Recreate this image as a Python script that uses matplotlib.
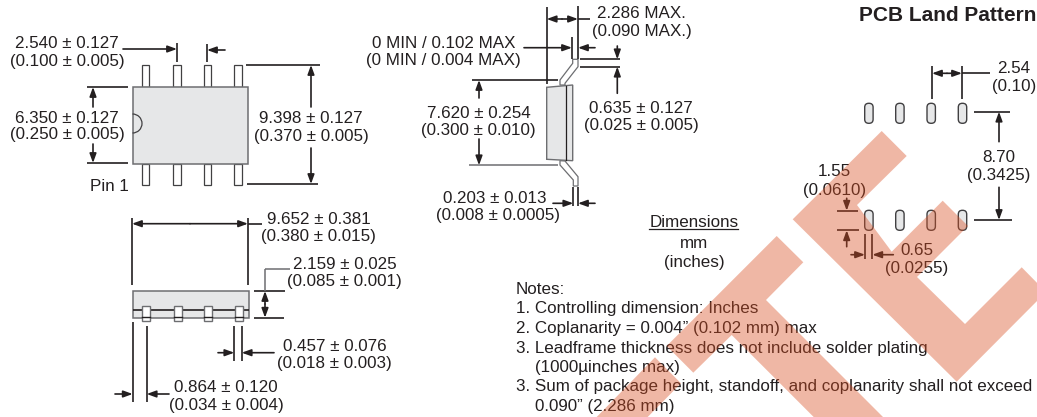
import matplotlib
matplotlib.use("Agg")
import matplotlib.pyplot as plt
from matplotlib.patches import Polygon, Rectangle, FancyBboxPatch, Arc

plt.rcParams['font.family'] = ['Liberation Sans', 'DejaVu Sans']

INK = '#231f20'
GRAY = '#6d6e71'
FILL = '#e6e7e8'

# dimension labels: text, center x, center y
labels = [
    ("2.540 ± 0.127", 67, 42), ("(0.100 ± 0.005)", 67, 59.5),
    ("6.350 ± 0.127", 67, 116.5), ("(0.250 ± 0.005)", 67, 133.5),
    ("9.398 ± 0.127", 311, 117), ("(0.370 ± 0.005)", 311, 134.5),
    ("Pin 1", 109.5, 185),
    ("9.652 ± 0.381", 319, 217.5), ("(0.380 ± 0.015)", 318.5, 235),
    ("2.159 ± 0.025", 345, 263), ("(0.085 ± 0.001)", 344.5, 280),
    ("0.457 ± 0.076", 335, 345), ("(0.018 ± 0.003)", 334, 362),
    ("0.864 ± 0.120", 226, 386.5), ("(0.034 ± 0.004)", 226, 404),
    ("2.286 MAX.", 641.5, 12), ("(0.090 MAX.)", 641.5, 30),
    ("0 MIN / 0.102 MAX", 443.5, 41.5), ("(0 MIN / 0.004 MAX)", 443.5, 58.5),
    ("0.635 ± 0.127", 641, 106.5), ("(0.025 ± 0.005)", 641, 124),
    ("7.620 ± 0.254", 478.5, 111.5), ("(0.300 ± 0.010)", 478.5, 129),
    ("0.203 ± 0.013", 495, 196.5), ("(0.008 ± 0.0005)", 498, 214),
    ("2.54", 1014, 66.5), ("(0.10)", 1014, 85),
    ("8.70", 999, 155.5), ("(0.3425)", 999, 174),
    ("1.55", 834.5, 169.5), ("(0.0610)", 834.5, 189),
    ("0.65", 917, 248.5), ("(0.0255)", 917, 267.5),
    ("Dimensions", 694, 221), ("mm", 694, 241.5), ("(inches)", 694, 260.5),
]

notes = [
    ("Notes:", 516, 288),
    ("1. Controlling dimension: Inches", 516, 307.5),
    ("2. Coplanarity = 0.004” (0.102 mm) max", 516, 327),
    ("3. Leadframe thickness does not include solder plating", 516, 346.5),
    ("(1000µinches max)", 535, 366),
    ("3. Sum of package height, standoff, and coplanarity shall not exceed", 516, 385.5),
    ("0.090” (2.286 mm)", 535, 404.5),
]

# package outlines
top_body = (132.5, 87, 115.5, 76.5)
lead_x = [141.5, 173, 203.5, 234]
top_lead_y = [(65, 22), (163.5, 21.5)]
front_body = (133, 291, 116, 26.5)
front_lead_x = [142.3, 173.7, 204, 234.7]
side_body = [(546.7, 87.3), (572.7, 85), (572.7, 160.7), (546.7, 159.3)]
side_lead_top = [(560, 85), (560, 80), (572.7, 63.3), (572.7, 59.3), (578, 59.3), (578, 66.7), (565, 83.3), (565, 85)]
side_lead_bot = [(560, 160.7), (560, 165), (573.3, 180), (573.3, 186), (578, 186), (578, 176.7), (565, 161)]
pad_x = [864.7, 895.7, 927, 958.3]
pad_y = [103.3, 210.3]

# extension and dimension lines: x0, y0, x1, y1
black_lines = [
    (177, 43, 177, 62), (207, 44, 207, 62),
    (87, 87, 128, 87), (87, 163, 128, 163),
    (246, 65, 320, 65), (247, 184, 318, 184),
    (132, 218, 132, 285), (248, 218, 248, 285), (248, 223.7, 262, 223.7),
    (254, 291, 285, 291), (254, 317.7, 284, 317.7),
    (234.3, 325.7, 234.3, 360.7), (241.7, 325.7, 241.7, 360.7),
    (132.7, 321.7, 132.7, 401.7), (146.7, 325.7, 146.7, 401.7),
    (546.7, 7.3, 546.7, 84), (578, 6, 578, 59), (578, 19, 590, 19),
    (572, 36.7, 572, 59),
    (580, 59.3, 620, 59.3), (580, 66.7, 620, 66.7),
    (472, 80, 558, 80),
    (573.3, 187.3, 573.3, 205.7), (578, 187.3, 578, 205.7),
    (932, 66, 932, 98.7), (962, 66, 962, 98.7), (962, 73.3, 990, 73.3),
    (974, 111.7, 1010, 111.7), (974, 220, 1011.7, 220),
    (837.3, 210.7, 857.7, 210.7), (837.3, 230.3, 859, 230.3),
    (865, 234, 865, 258.7), (872.3, 234, 872.3, 258.7),
]
gray_lines = [
    (265, 269, 290, 269), (265, 269, 265, 291),
    (469, 165.3, 558, 165.3),
]
# arrows run from tail to head: x0, y0, x1, y1
arrows = [
    (123, 49, 177, 49), (225, 50, 207, 50),
    (93, 107, 93, 87), (93, 144, 93, 163),
    (311, 107, 311, 65), (311, 148, 311, 184),
    (190, 223.7, 132, 223.7), (190, 223.7, 248, 223.7),
    (265, 304, 265, 291), (265, 304, 265, 317.7),
    (218, 352.7, 234.3, 352.7), (274, 352.7, 241.7, 352.7),
    (115, 394, 132.7, 394), (169, 394, 146.7, 394),
    (562, 19, 546.7, 19), (562, 19, 578, 19),
    (524, 47.7, 572, 47.7), (595, 47.7, 578, 47.7),
    (617.3, 46, 617.3, 59.3), (617.3, 93.3, 617.3, 66.7),
    (479, 98, 479, 80), (479, 139, 479, 165.3),
    (553, 203.3, 573.3, 203.3), (595, 203.3, 578, 203.3),
    (947, 73.3, 932, 73.3), (947, 73.3, 962, 73.3),
    (999, 141.7, 999, 111.7), (999, 187.3, 999, 220),
    (846.7, 198.3, 846.7, 210.7), (846.7, 246.7, 846.7, 230.3),
    (851, 254.7, 865, 254.7), (893.3, 254.7, 872.3, 254.7),
]

# logo stripes behind everything on the page
logo_right = [(881.7, 131), (906.7, 156), (857, 205), (891.7, 251.7), (942.7, 200.7), (968, 226), (917, 277),
              (965, 324), (1021.7, 267.3), (1046, 292), (956.7, 381.7), (792.7, 219.3)]
logo_mid = [(776.7, 236), (803.3, 262.3), (766, 300), (883, 417), (813.7, 417), (731.7, 335), (693.3, 372.7), (666.7, 346)]
logo_low = [(655, 357.3), (681, 383.3), (647.7, 417), (596.7, 417)]

fig = plt.figure(figsize=(10.37, 4.17), dpi=100)
ax = fig.add_axes([0, 0, 1, 1])
ax.set_xlim(0, 1037)
ax.set_ylim(417, 0)
ax.axis('off')

# top view
for x in lead_x:
    for y, h in top_lead_y:
        ax.add_patch(Rectangle((x, y), 7.7, h, fc='white', ec='#414042', lw=0.9))
ax.add_patch(Rectangle(top_body[:2], top_body[2], top_body[3], fc=FILL, ec=GRAY, lw=1.1))
ax.add_patch(Arc((132.5, 123.5), 19, 19, theta1=-90, theta2=90, ec='#414042', lw=0.9))

# front view, the leads sit on top of the seam line
ax.add_patch(Rectangle(front_body[:2], front_body[2], front_body[3], fc=FILL, ec=GRAY, lw=1.1))
ax.plot([133, 249], [310, 310], color=INK, lw=1.2, solid_capstyle='butt', zorder=2)
for x in front_lead_x:
    ax.add_patch(Rectangle((x, 306), 7.8, 14.7, fc='white', ec=GRAY, lw=1.0, zorder=2))
    ax.plot([x, x + 7.8], [316.5, 316.5], color=INK, lw=1.0, zorder=3)

# side view
ax.add_patch(Polygon(side_lead_top, fc='white', ec=GRAY, lw=0.9))
ax.add_patch(Polygon(side_lead_bot, fc='white', ec=GRAY, lw=0.9))
ax.add_patch(Polygon(side_body, fc=FILL, ec=GRAY, lw=1.0))
ax.plot([566, 566], [85.5, 160], color=INK, lw=0.9)

# land pattern pads
for x in pad_x:
    for y in pad_y:
        ax.add_patch(FancyBboxPatch((x + 4, y + 4), 0.4, 12, boxstyle="round,pad=4,rounding_size=4",
                                    fc=FILL, ec='#414042', lw=1.0))

for x0, y0, x1, y1 in black_lines:
    ax.plot([x0, x1], [y0, y1], color=INK, lw=1.2, solid_capstyle='butt', zorder=4)
for x0, y0, x1, y1 in gray_lines:
    ax.plot([x0, x1], [y0, y1], color=GRAY, lw=1.1, solid_capstyle='butt', zorder=4)
for x0, y0, x1, y1 in arrows:
    ax.annotate('', xy=(x1, y1), xytext=(x0, y0), zorder=4,
                arrowprops=dict(arrowstyle='-|>,head_length=0.55,head_width=0.2', color=INK, lw=1.2,
                                shrinkA=0, shrinkB=0, mutation_scale=10))

for s, x, y in labels:
    ax.text(x, y, s, fontsize=12.25, color=INK, ha='center', va='center_baseline', zorder=5)
for s, x, y in notes:
    ax.text(x, y, s, fontsize=12.25, color=INK, ha='left', va='center_baseline', zorder=5)
ax.text(1036, 13.5, "PCB Land Pattern", fontsize=15, fontweight='bold', color=INK, ha='right',
        va='center_baseline', zorder=5)
ax.plot([649, 738], [229, 229], color=INK, lw=0.9, zorder=5)

for pts in [logo_right, logo_mid, logo_low]:
    ax.add_patch(Polygon(pts, fc=(217 / 255, 77 / 255, 32 / 255), ec='none', alpha=0.4, zorder=6))

fig.savefig('out.png', dpi=100)
